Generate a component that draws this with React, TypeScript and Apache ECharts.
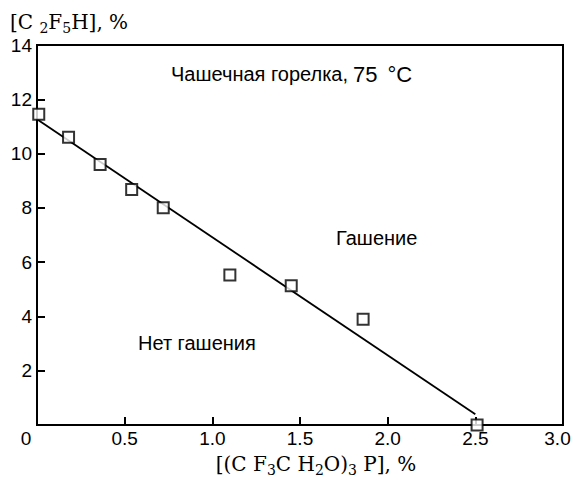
import React, { useEffect, useRef } from 'react';
import * as echarts from 'echarts';

// Measured points: [(CF3CH2O)3P], % vs [C2F5H], %
const xValues = [0.01, 0.18, 0.36, 0.54, 0.72, 1.1, 1.45, 1.86, 2.51];
const yValues = [11.45, 10.6, 9.6, 8.68, 8.0, 5.53, 5.13, 3.9, 0];
// Fitted boundary line end points
const fitX = [0, 2.5];
const fitY = [11.26, 0.4];
const xTickLabels = ['0', '0.5', '1.0', '1.5', '2.0', '2.5', '3.0'];
const yTickLabels = ['', '2', '4', '6', '8', '10', '12', '14'];
const titleParts = ['Чашечная горелка,', '75', '°C'];
const annotations = ['Гашение', 'Нет гашения'];

export default function App() {
  const ref = useRef<HTMLDivElement>(null);
  useEffect(() => {
    const chart = echarts.init(ref.current!, null, { renderer: 'svg' });
    const sans = 'Liberation Sans';
    const serif = 'DejaVu Serif';
    const tickFont = 19;
    const annFont = 20;
    const axisLine = { show: true, onZero: false, lineStyle: { color: '#000', width: 2 } };
    const axisTick = { show: true, inside: true, length: 8, lineStyle: { color: '#000', width: 2 } };
    const subStyle = { fontSize: 14, fontFamily: serif, verticalAlign: 'bottom', fill: '#000', color: '#000' };
    chart.setOption({
      animation: false,
      backgroundColor: '#fff',
      grid: {
        left: 37, right: 9, top: 45, bottom: 52, show: true,
        borderColor: '#000', borderWidth: 2, backgroundColor: 'transparent',
        containLabel: false, outerBoundsMode: 'none',
      },
      xAxis: {
        type: 'value', min: 0, max: 3, interval: 0.5,
        axisLine, axisTick, splitLine: { show: false },
        axisLabel: {
          margin: 4, color: '#000', fontFamily: sans, fontSize: tickFont,
          formatter: (v: number) => {
            const i = Math.round(v / 0.5);
            const t = xTickLabels[i] ?? '';
            if (i === 0) return '{l|' + t + '}';
            if (i === 6) return '{r|' + t + '}';
            return t;
          },
          rich: {
            l: { padding: [0, 22, 0, 0], fontFamily: sans, fontSize: tickFont, color: '#000' },
            r: { padding: [0, 11, 0, 0], fontFamily: sans, fontSize: tickFont, color: '#000' },
          },
        },
      },
      yAxis: {
        type: 'value', min: 0, max: 14, interval: 2,
        axisLine, axisTick, splitLine: { show: false },
        axisLabel: {
          margin: 5, color: '#000', fontFamily: sans, fontSize: tickFont,
          formatter: (v: number) => yTickLabels[Math.round(v / 2)] ?? '',
        },
      },
      series: [
        {
          type: 'line',
          data: fitX.map((x, i) => [x, fitY[i]]),
          symbol: 'none', showSymbol: false,
          lineStyle: { color: '#000', width: 1.8 },
          z: 2,
        },
        {
          type: 'scatter',
          data: xValues.map((x, i) => [x, yValues[i]]),
          symbol: 'rect', symbolSize: 11,
          itemStyle: { color: '#fff', borderColor: '#000', borderWidth: 2 },
          clip: false,
          z: 3,
        },
      ],
      graphic: [
        {
          type: 'text', x: 10, y: 22,
          style: {
            text: '[C {sub|2}F{sub|5}H], %',
            fontFamily: serif, fontSize: 20, lineHeight: 26, fill: '#000',
            verticalAlign: 'middle', align: 'left',
            rich: { sub: subStyle },
          },
        },
        {
          type: 'text', x: 316, y: 464,
          style: {
            text: '[(C F{sub|3}C H{sub|2}O){sub|3} P], %',
            fontFamily: serif, fontSize: 20, lineHeight: 26, fill: '#000',
            verticalAlign: 'middle', align: 'center',
            rich: { sub: subStyle },
          },
        },
        {
          type: 'text', x: 171, y: 74,
          style: {
            text: '{a|' + titleParts[0] + '}{b|' + titleParts[1] + '}{c|' + titleParts[2] + '}',
            fontFamily: sans, fontSize: annFont, fill: '#000', verticalAlign: 'middle', align: 'left',
            rich: {
              a: { fontFamily: sans, fontSize: annFont, fill: '#000', color: '#000' },
              b: { fontFamily: sans, fontSize: 22, fill: '#000', color: '#000', padding: [0, 0, 0, 5] },
              c: { fontFamily: sans, fontSize: 22, fill: '#000', color: '#000', padding: [0, 0, 0, 10] },
            },
          },
        },
        {
          type: 'text', x: 336, y: 238,
          style: { text: annotations[0], fontFamily: sans, fontSize: annFont, fill: '#000', verticalAlign: 'middle', align: 'left' },
        },
        {
          type: 'text', x: 138, y: 343,
          style: { text: annotations[1], fontFamily: sans, fontSize: annFont, fill: '#000', verticalAlign: 'middle', align: 'left' },
        },
      ],
    });
    return () => chart.dispose();
  }, []);
  return <div ref={ref} style={{ position: 'fixed', left: 0, top: 0, width: 572, height: 477 }} />;
}
